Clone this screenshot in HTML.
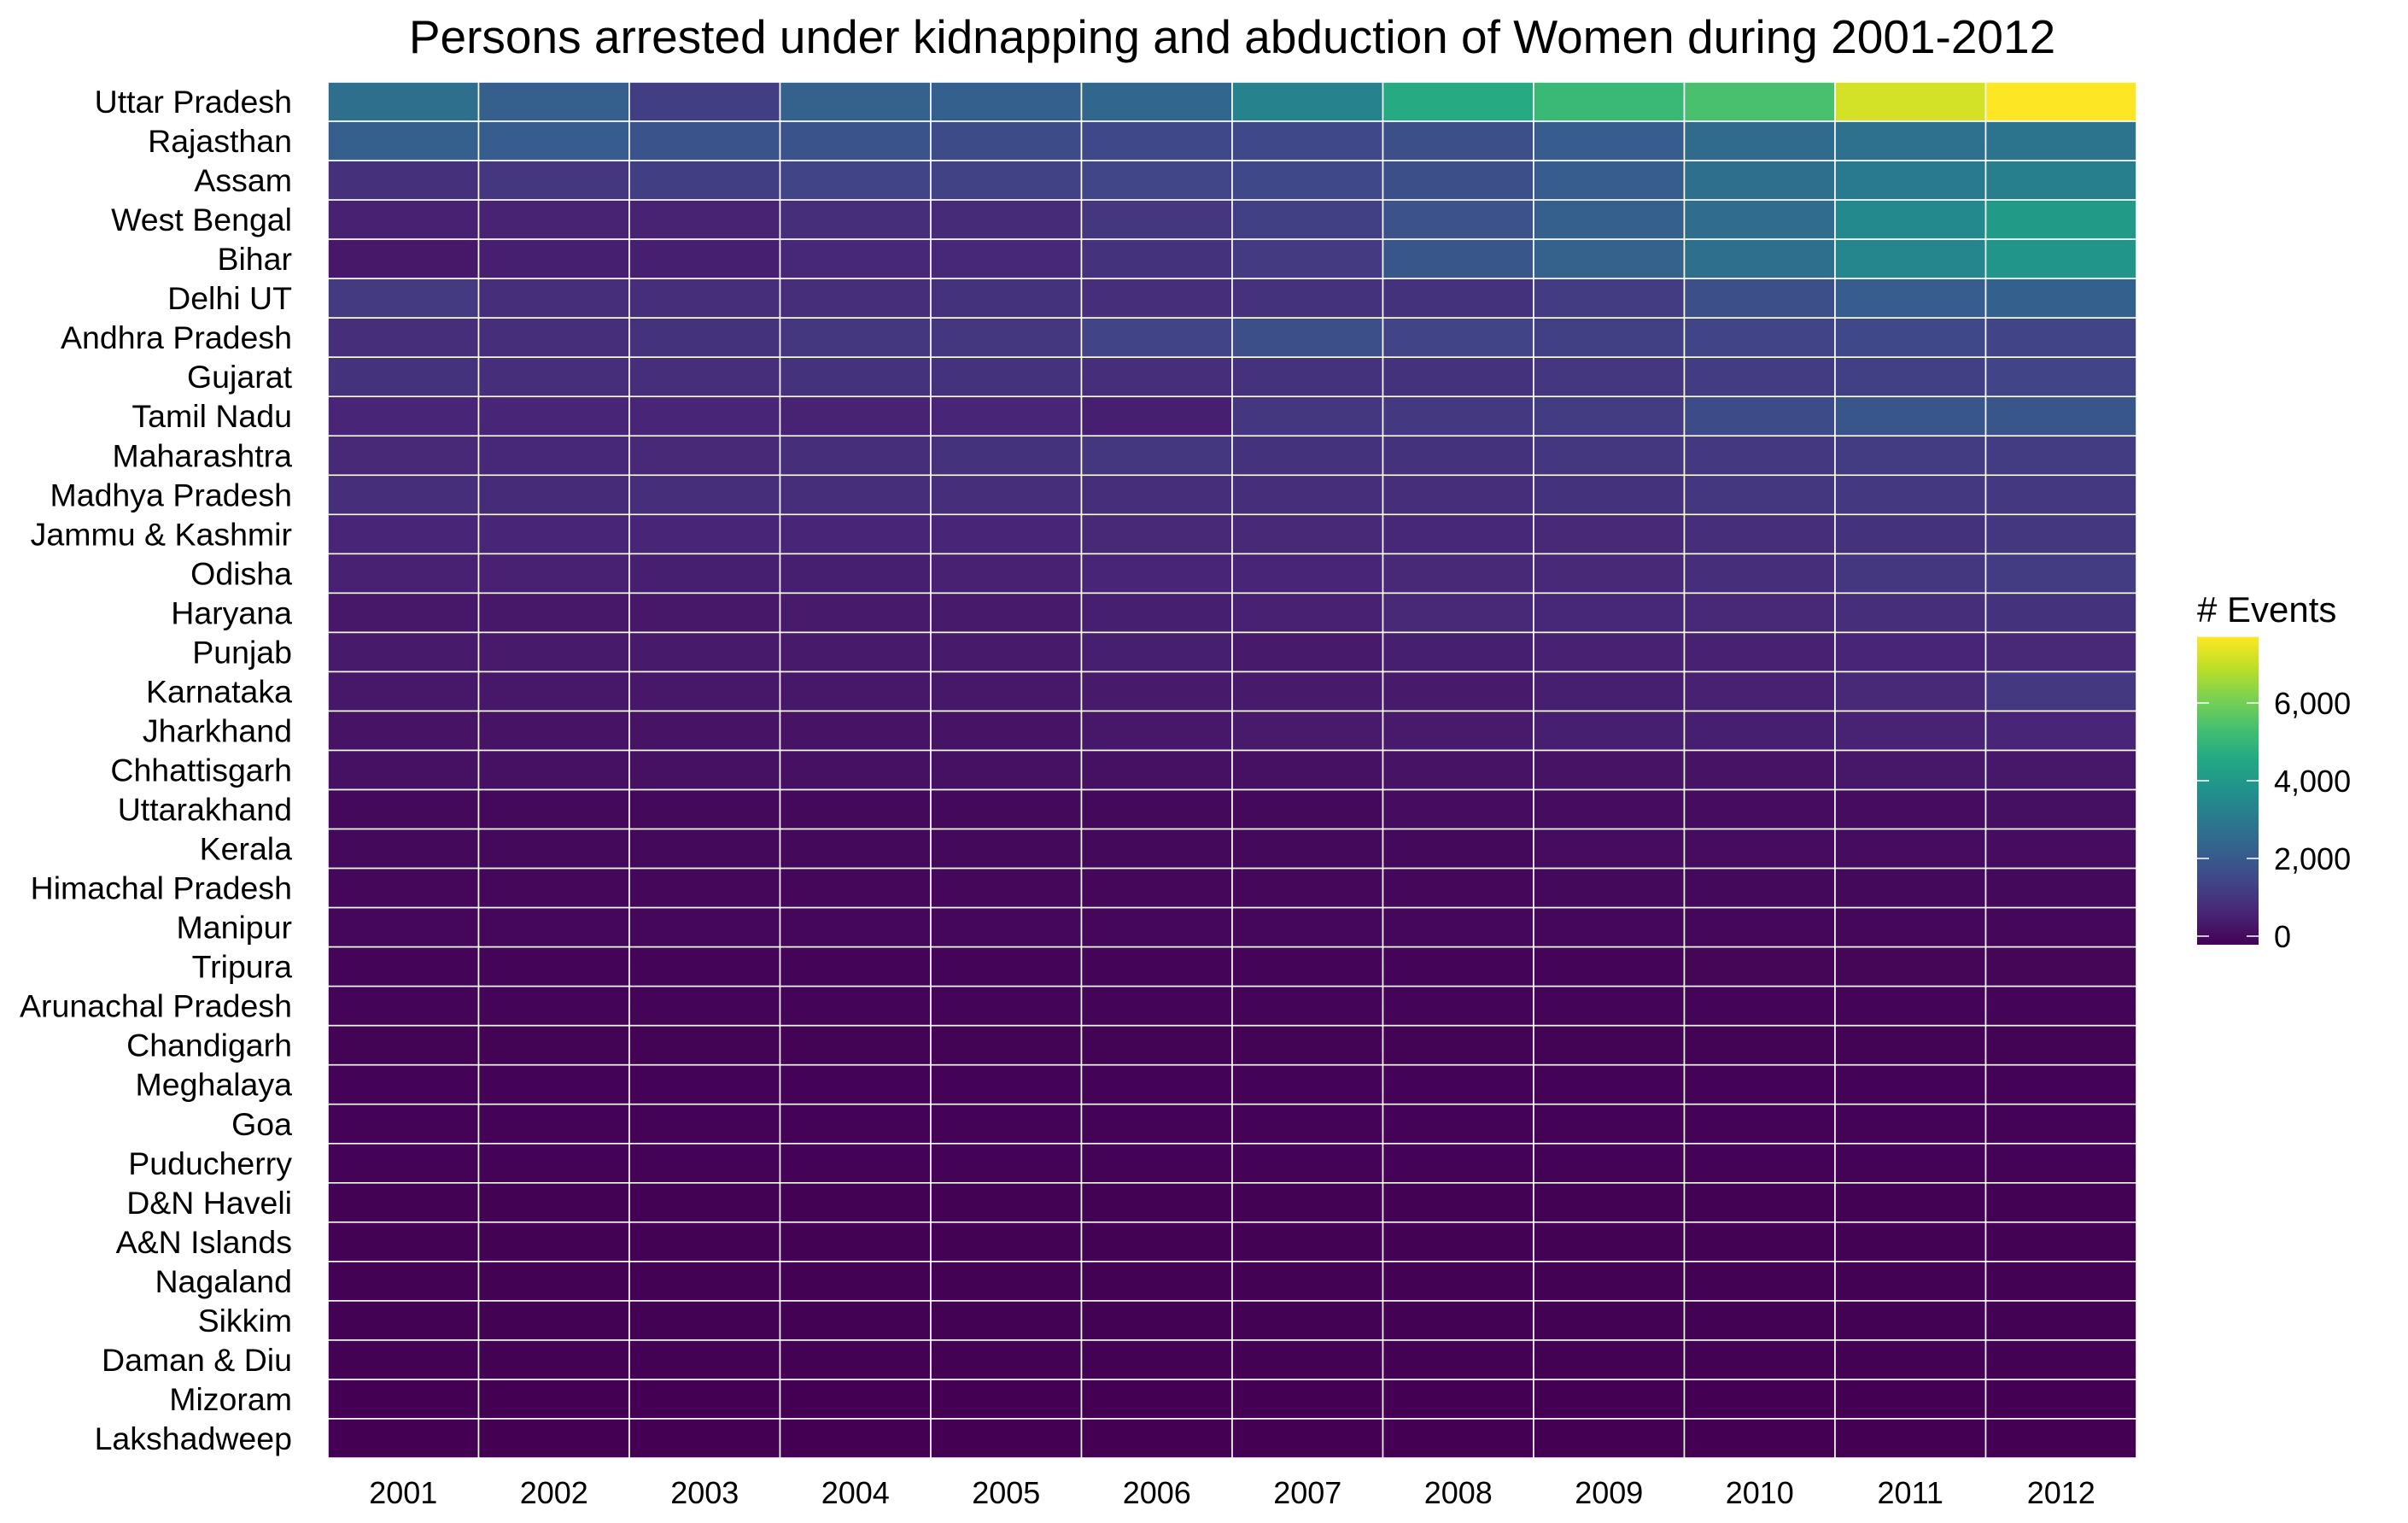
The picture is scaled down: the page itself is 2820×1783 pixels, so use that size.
<!DOCTYPE html>
<html><head><meta charset="utf-8">
<style>
html,body{margin:0;padding:0;background:#fff;}
svg{display:block;font-family:"Liberation Sans",Arial,sans-serif;}
</style></head>
<body>
<svg id="chart" width="2820" height="1783" viewBox="0 0 2820 1783" xmlns="http://www.w3.org/2000/svg">
<rect width="2820" height="1783" fill="#fff"/>
<text x="1443" y="62" font-size="55" text-anchor="middle" fill="#000">Persons arrested under kidnapping and abduction of Women during 2001-2012</text>
<g id="cells"></g>
<g id="ylabels"></g>
<g id="xlabels"></g>
<g id="legend">
<defs><linearGradient id="vgrad" x1="0" y1="1" x2="0" y2="0"></linearGradient></defs>
<text x="2573" y="728" font-size="42" fill="#000"># Events</text>
</g>
</svg>
<script>
const years = ["2001","2002","2003","2004","2005","2006","2007","2008","2009","2010","2011","2012"];
const states = ["Uttar Pradesh","Rajasthan","Assam","West Bengal","Bihar","Delhi UT","Andhra Pradesh","Gujarat","Tamil Nadu","Maharashtra","Madhya Pradesh","Jammu & Kashmir","Odisha","Haryana","Punjab","Karnataka","Jharkhand","Chhattisgarh","Uttarakhand","Kerala","Himachal Pradesh","Manipur","Tripura","Arunachal Pradesh","Chandigarh","Meghalaya","Goa","Puducherry","D&N Haveli","A&N Islands","Nagaland","Sikkim","Daman & Diu","Mizoram","Lakshadweep"];
const values = [
[2800,2300,1400,2400,2350,2550,3400,4700,5150,5450,7200,7700],
[2300,2250,2000,2000,1750,1650,1650,1850,2250,2650,2850,2950],
[1050,1200,1400,1550,1500,1600,1650,1850,2250,2800,3150,3300],
[700,750,750,1000,950,1200,1450,1950,2300,2700,3600,4200],
[500,650,650,850,850,1100,1300,2050,2400,2800,3550,4000],
[1300,1000,1000,1000,1100,1000,1100,1100,1350,1850,2250,2350],
[1000,1000,1100,1200,1200,1550,1850,1550,1450,1550,1650,1550],
[1100,1000,1000,1100,1100,1000,1100,1100,1200,1350,1450,1550],
[800,800,800,750,800,650,1200,1250,1350,1750,2050,2050],
[900,850,900,1000,1100,1200,1100,1100,1200,1250,1350,1350],
[1000,950,1000,1000,1000,1000,1000,1000,1100,1200,1250,1250],
[800,800,800,800,800,900,900,850,900,1000,1100,1200],
[700,700,650,650,700,800,800,900,900,1000,1200,1350],
[500,500,500,550,550,650,700,900,850,900,1000,1100],
[550,550,550,550,550,650,550,650,700,700,800,900],
[500,500,500,500,500,550,550,550,650,700,900,1250],
[400,400,400,400,400,500,550,550,650,650,750,800],
[350,350,350,350,350,350,350,400,400,400,500,500],
[180,180,180,180,180,180,180,250,250,250,250,330],
[170,170,170,170,170,170,170,170,250,250,250,250],
[130,130,130,130,130,130,130,130,170,170,170,170],
[130,130,130,130,130,130,130,130,130,130,130,130],
[90,90,90,90,90,90,90,90,90,100,100,100],
[70,70,70,70,70,70,70,70,70,70,70,70],
[55,55,55,55,55,55,55,55,55,55,55,55],
[45,45,45,45,45,45,45,45,45,45,45,45],
[40,40,40,40,40,40,40,40,40,40,40,40],
[40,40,40,40,40,40,40,40,40,40,40,40],
[30,30,30,30,30,30,30,30,30,30,30,30],
[30,30,30,30,30,30,30,30,30,30,30,30],
[20,20,20,20,20,20,20,20,20,20,20,20],
[20,20,20,20,20,20,20,20,20,20,20,20],
[15,15,15,15,15,15,15,15,15,15,15,15],
[10,10,10,10,10,10,10,10,10,10,10,10],
[2,2,2,2,2,2,2,2,2,2,2,2]
];
const legendTicks = [0,2000,4000,6000];
const legendTickLabels = ["0","2,000","4,000","6,000"];

const NS="http://www.w3.org/2000/svg";
const L=384,R=2502,T=96,B=1707;
const cw=(R-L)/years.length, ch=(B-T)/states.length;
const vmax=Math.max(...values.flat()), vmin=0;
const vir=["#440154","#482475","#414487","#355f8d","#2a788e","#21918c","#22a884","#44bf70","#7ad151","#bddf26","#fde725"];
function hex(c){return [1,3,5].map(i=>parseInt(c.substr(i,2),16));}
function viridis(t){t=Math.max(0,Math.min(1,t));const p=t*(vir.length-1);const i=Math.min(Math.floor(p),vir.length-2);const f=p-i;const a=hex(vir[i]),b=hex(vir[i+1]);return "rgb("+a.map((v,k)=>Math.round(v+(b[k]-v)*f)).join(",")+")";}
function xPos(j){return L+j*cw;}
function yPos(i){return T+i*ch;}
function color(v){return viridis((v-vmin)/(vmax-vmin));}
function mk(tag,attrs,parent){const e=document.createElementNS(NS,tag);for(const k in attrs)e.setAttribute(k,attrs[k]);parent.appendChild(e);return e;}

const cells=document.getElementById('cells');
states.forEach((s,i)=>{years.forEach((y,j)=>{
  const r=mk('rect',{x:xPos(j),y:yPos(i),width:cw,height:ch,fill:color(values[i][j]),stroke:'#fff','stroke-width':1.6},cells);
  
  
});});
const yl=document.getElementById('ylabels');
states.forEach((s,i)=>{
  const t=mk('text',{x:342,y:yPos(i)+ch/2+13,'font-size':37.5,'text-anchor':'end',fill:'#000'},yl);
  t.textContent=s;
  
  
});
const xl=document.getElementById('xlabels');
years.forEach((y,j)=>{
  const t=mk('text',{x:xPos(j)+cw/2,y:1760,'font-size':36,'text-anchor':'middle',fill:'#000'},xl);
  t.textContent=y;
  
  
});
const grad=document.getElementById('vgrad');
vir.forEach((c,k)=>mk('stop',{offset:(k/(vir.length-1)),'stop-color':c},grad));
const lg=document.getElementById('legend');
const LX=2573,LW=72,L0=1096,LPer=(1096-823)/6000;
function ly(v){return L0-v*LPer;}
const lt=ly(vmax), lb=ly(vmin)+10;
const bar=mk('rect',{x:LX,y:lt,width:LW,height:lb-lt,fill:'url(#vgrad)'},lg);


legendTicks.forEach((v,k)=>{
  const y=ly(v);
  mk('line',{x1:LX,x2:LX+14,y1:y,y2:y,stroke:'#fff','stroke-width':1.5},lg);
  mk('line',{x1:LX+LW-14,x2:LX+LW,y1:y,y2:y,stroke:'#fff','stroke-width':1.5},lg);
  const t=mk('text',{x:2663,y:y+13,'font-size':36,fill:'#000'},lg);
  t.textContent=legendTickLabels[k];
  
  
});
</script>
</body></html>
